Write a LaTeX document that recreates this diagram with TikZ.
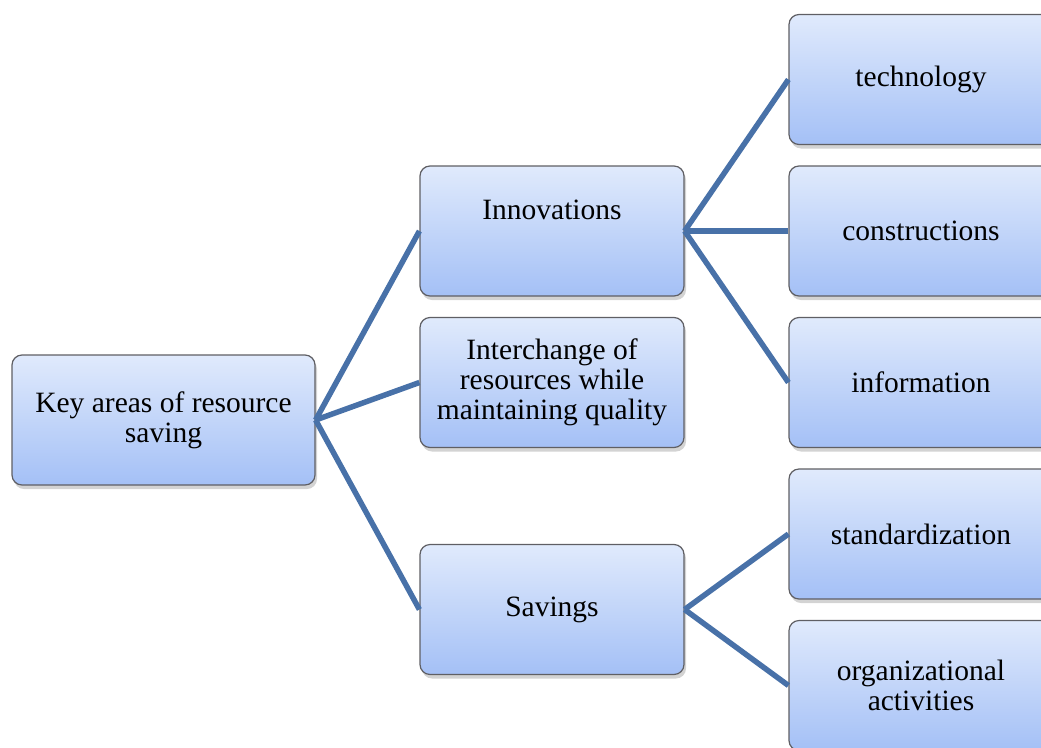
\documentclass[tikz,border=0pt]{standalone}
\usepackage{fontspec}
\setmainfont{Liberation Serif}
\usetikzlibrary{shadows}
\definecolor{boxtop}{RGB}{224,234,252}
\definecolor{boxbot}{RGB}{164,192,246}
\definecolor{boxline}{RGB}{95,95,100}
\definecolor{linkblue}{RGB}{72,113,168}
\begin{document}
\begin{tikzpicture}[x=1pt,y=-1pt,
  box/.style={rectangle, rounded corners=10pt, draw=boxline, line width=1.2pt,
    top color=boxtop, bottom color=boxbot, minimum width=264pt, minimum height=130pt,
    align=center, font=\fontsize{29.5}{30}\selectfont,
    drop shadow={opacity=0.35, shadow xshift=2pt, shadow yshift=-4pt}},
  link/.style={draw=linkblue, line width=5.5pt}]
\useasboundingbox (0,0) rectangle (1041,747);
\node[box, minimum width=303pt] (root) at (163.5,420){Key areas of resource\\saving};
\node[box] (inno) at (552,231){Innovations\\[12pt]\mbox{}};
\node[box] (inter) at (552,382.5){Interchange of\\resources while\\maintaining quality};
\node[box] (sav) at (552,609.5){Savings};
\node[box] (tech) at (921,79.5){technology};
\node[box] (cons) at (921,231){constructions};
\node[box] (info) at (921,382.5){information};
\node[box] (stand) at (921,534){standardization};
\node[box] (org) at (921,685.5){organizational\\activities};
\draw[link](root.east) -- (inno.west);
\draw[link](root.east) -- (inter.west);
\draw[link](root.east) -- (sav.west);
\draw[link](inno.east) -- (tech.west);
\draw[link](inno.east) -- (cons.west);
\draw[link](inno.east) -- (info.west);
\draw[link](sav.east) -- (stand.west);
\draw[link](sav.east) -- (org.west);
\end{tikzpicture}
\end{document}
